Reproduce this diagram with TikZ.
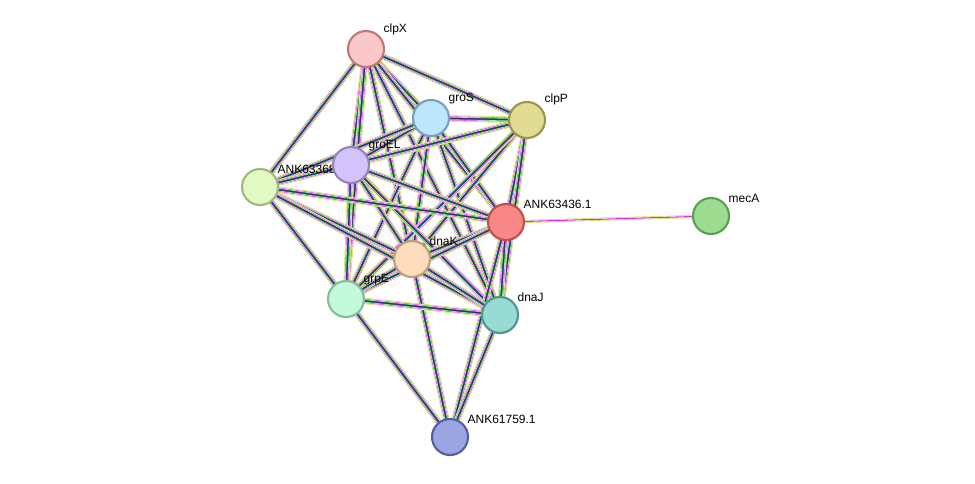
\documentclass[tikz,border=0pt]{standalone}
\usepackage{fontspec}
\setmainfont{Liberation Sans}
\begin{document}
\begin{tikzpicture}[x=0.75pt,y=-0.75pt,
  ed/.style={preaction={draw=ylw,line width=4.6pt},preaction={draw=white,line width=3.8pt},preaction={draw=mag,line width=3.1pt},preaction={draw=white,line width=2.3pt},preaction={draw=grn,line width=1.7pt},preaction={draw=blu,line width=1pt},draw=dk,line width=0.45pt},
  ed2/.style={preaction={draw=ylw,line width=2.2pt},preaction={draw=white,line width=1.4pt},draw=mag,line width=0.8pt},
  nd/.style={circle,minimum size=27pt,inner sep=0pt,line width=1.6pt},
  lb/.style={font=\fontsize{9}{10}\selectfont,anchor=south west,inner sep=1pt}]
\definecolor{ylw}{RGB}{200,215,60}
\definecolor{mag}{RGB}{220,50,220}
\definecolor{grn}{RGB}{40,180,40}
\definecolor{blu}{RGB}{50,70,230}
\definecolor{dk}{RGB}{50,50,50}
\useasboundingbox (0,0) rectangle (975,483);
\coordinate (clpX) at (366,49);
\coordinate (groS) at (431,118);
\coordinate (clpP) at (527,120);
\coordinate (groEL) at (351,165);
\coordinate (A68) at (260,187);
\coordinate (A36) at (506,222);
\coordinate (mecA) at (711,216);
\coordinate (dnaK) at (412,259);
\coordinate (grpE) at (346,299);
\coordinate (dnaJ) at (500,315);
\coordinate (A59) at (450,437);
\foreach \a/\b in {clpX/groS,clpX/clpP,clpX/groEL,clpX/A68,clpX/dnaK,clpX/grpE,clpX/dnaJ,clpX/A36,
 groS/clpP,groS/groEL,groS/A68,groS/A36,groS/dnaK,groS/grpE,groS/dnaJ,
 clpP/groEL,clpP/A68,clpP/A36,clpP/dnaK,clpP/grpE,clpP/dnaJ,
 groEL/A68,groEL/A36,groEL/dnaK,groEL/grpE,groEL/dnaJ,
 A68/A36,A68/dnaK,A68/grpE,A68/dnaJ,
 A36/dnaK,A36/grpE,A36/dnaJ,A36/A59,
 dnaK/grpE,dnaK/dnaJ,dnaK/A59,grpE/dnaJ,grpE/A59,dnaJ/A59}
  \draw[ed] (\a) -- (\b);
\draw[ed2] (A36) -- (mecA);
\node[lb] (lclpX) at (382,37) {clpX};
\node[lb] (lgroS) at (447,106) {groS};
\node[lb] (lclpP) at (543,107) {clpP};
\node[lb] (lA68) at (276,175) {ANK63368.1};
\node[lb] (lgroEL) at (367,153) {groEL};
\node[lb] (lA36) at (522,210) {ANK63436.1};
\node[lb] (lmecA) at (727,204) {mecA};
\node[lb] (ldnaK) at (428,247) {dnaK};
\node[lb] (lgrpE) at (362,287) {grpE};
\node[lb] (ldnaJ) at (516,303) {dnaJ};
\node[lb] (lA59) at (466,425) {ANK61759.1};
\node[nd,fill={rgb,255:red,250;green,200;blue,200},draw={rgb,255:red,190;green,120;blue,120}] (nclpX) at (clpX) {};
\node[nd,fill={rgb,255:red,190;green,230;blue,250},draw={rgb,255:red,120;green,160;blue,190}] (ngroS) at (groS) {};
\node[nd,fill={rgb,255:red,225;green,220;blue,145},draw={rgb,255:red,150;green,150;blue,80}] (nclpP) at (clpP) {};
\node[nd,fill={rgb,255:red,225;green,250;blue,195},draw={rgb,255:red,160;green,185;blue,130}] (nA68) at (A68) {};
\node[nd,fill={rgb,255:red,210;green,195;blue,250},draw={rgb,255:red,150;green,130;blue,190}] (ngroEL) at (groEL) {};
\node[nd,fill={rgb,255:red,250;green,135;blue,135},draw={rgb,255:red,190;green,80;blue,80}] (nA36) at (A36) {};
\node[nd,fill={rgb,255:red,155;green,220;blue,145},draw={rgb,255:red,90;green,160;blue,80}] (nmecA) at (mecA) {};
\node[nd,fill={rgb,255:red,255;green,220;blue,190},draw={rgb,255:red,190;green,160;blue,120}] (ndnaK) at (dnaK) {};
\node[nd,fill={rgb,255:red,195;green,250;blue,220},draw={rgb,255:red,130;green,190;blue,150}] (ngrpE) at (grpE) {};
\node[nd,fill={rgb,255:red,150;green,220;blue,210},draw={rgb,255:red,80;green,150;blue,145}] (ndnaJ) at (dnaJ) {};
\node[nd,fill={rgb,255:red,155;green,165;blue,225},draw={rgb,255:red,85;green,95;blue,160}] (nA59) at (A59) {};
\end{tikzpicture}
\end{document}
